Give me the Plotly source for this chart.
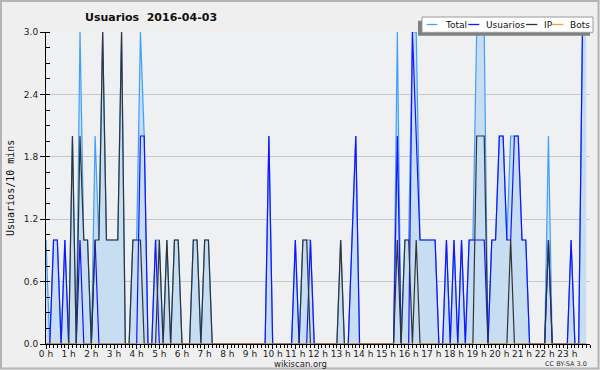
import plotly.graph_objects as go

# ---- data (10-minute slots, 2016-04-03) ----
slot_minutes = [10 * i for i in range(144)]
hour_ticks = [60 * h for h in range(24)]
hour_labels = [f"{h} h" for h in range(24)]
y_ticks = [0.0, 0.6, 1.2, 1.8, 2.4, 3.0]
y_labels = ["0.0", "0.6", "1.2", "1.8", "2.4", "3.0"]

total = [
    1, 0, 1, 1, 0, 1, 0, 2, 0, 3, 1, 1, 0, 2, 1, 3, 1, 1, 1, 1, 3, 0, 0, 1,
    1, 3, 2, 0, 0, 1, 1, 0, 1, 0, 1, 1, 0, 0, 0, 1, 1, 0, 1, 1, 0, 0, 0, 0,
    0, 0, 0, 0, 0, 0, 0, 0, 0, 0, 0, 2, 0, 0, 0, 0, 0, 0, 1, 0, 1, 1, 1, 0,
    0, 0, 0, 0, 0, 0, 1, 0, 0, 1, 2, 0, 0, 0, 0, 0, 0, 0, 0, 0, 0, 3, 0, 1,
    1, 3, 3, 1, 1, 1, 1, 1, 0, 0, 1, 0, 1, 0, 1, 0, 1, 1, 3, 3, 3, 0, 1, 1,
    2, 2, 1, 2, 2, 2, 1, 1, 0, 0, 0, 0, 0, 2, 0, 0, 0, 0, 0, 1, 0, 0, 3, 3,
]
usuarios = [
    0, 0, 1, 1, 0, 1, 0, 0, 0, 1, 0, 0, 0, 1, 0, 0, 0, 0, 0, 0, 0, 0, 0, 0,
    0, 2, 2, 0, 0, 1, 0, 0, 0, 0, 0, 0, 0, 0, 0, 0, 0, 0, 0, 0, 0, 0, 0, 0,
    0, 0, 0, 0, 0, 0, 0, 0, 0, 0, 0, 2, 0, 0, 0, 0, 0, 0, 1, 0, 0, 0, 1, 0,
    0, 0, 0, 0, 0, 0, 0, 0, 0, 1, 2, 0, 0, 0, 0, 0, 0, 0, 0, 0, 0, 2, 0, 0,
    0, 3, 2, 1, 1, 1, 1, 1, 0, 0, 1, 0, 1, 0, 1, 0, 1, 1, 1, 1, 1, 0, 1, 1,
    2, 2, 1, 1, 2, 2, 1, 1, 0, 0, 0, 0, 0, 1, 0, 0, 0, 0, 0, 1, 0, 0, 3, 3,
]
ip = [
    0, 0, 0, 0, 0, 0, 0, 2, 0, 2, 1, 1, 0, 1, 1, 3, 1, 1, 1, 1, 3, 0, 0, 1,
    1, 1, 0, 0, 0, 0, 1, 0, 1, 0, 1, 1, 0, 0, 0, 1, 1, 0, 1, 1, 0, 0, 0, 0,
    0, 0, 0, 0, 0, 0, 0, 0, 0, 0, 0, 0, 0, 0, 0, 0, 0, 0, 0, 0, 1, 1, 0, 0,
    0, 0, 0, 0, 0, 0, 1, 0, 0, 0, 0, 0, 0, 0, 0, 0, 0, 0, 0, 0, 0, 1, 0, 1,
    1, 0, 1, 0, 0, 0, 0, 0, 0, 0, 0, 0, 0, 0, 0, 0, 0, 0, 2, 2, 2, 0, 0, 0,
    0, 0, 0, 1, 0, 0, 0, 0, 0, 0, 0, 0, 0, 1, 0, 0, 0, 0, 0, 0, 0, 0, 0, 0,
]
bots = [
    0, 0, 0, 0, 0, 0, 0, 0, 0, 0, 0, 0, 0, 0, 0, 0, 0, 0, 0, 0, 0, 0, 0, 0,
    0, 0, 0, 0, 0, 0, 0, 0, 0, 0, 0, 0, 0, 0, 0, 0, 0, 0, 0, 0, 0, 0, 0, 0,
    0, 0, 0, 0, 0, 0, 0, 0, 0, 0, 0, 0, 0, 0, 0, 0, 0, 0, 0, 0, 0, 0, 0, 0,
    0, 0, 0, 0, 0, 0, 0, 0, 0, 0, 0, 0, 0, 0, 0, 0, 0, 0, 0, 0, 0, 0, 0, 0,
    0, 0, 0, 0, 0, 0, 0, 0, 0, 0, 0, 0, 0, 0, 0, 0, 0, 0, 0, 0, 0, 0, 0, 0,
    0, 0, 0, 0, 0, 0, 0, 0, 0, 0, 0, 0, 0, 0, 0, 0, 0, 0, 0, 0, 0, 0, 0, 0,
]

series_names = ["Total", "Usuarios", "IP", "Bots"]
series_colors = ["#3f9fff", "#1414ff", "#333333", "#ffa31a"]

# ---- geometry helpers (pixel -> paper) ----
W, H = 600, 370
L, R, T, B = 46, 10, 32, 26
PW, PH = W - L - R, H - T - B


def px(X):
    return (X - L) / PW


def py(Y):
    return (H - B - Y) / PH


fig = go.Figure()
fig.add_trace(go.Scatter(x=slot_minutes, y=total, mode="lines", name="Total",
                         line=dict(color=series_colors[0], width=1.2),
                         fill="tozeroy", fillcolor="#c6ddf2"))
fig.add_trace(go.Scatter(x=slot_minutes, y=usuarios, mode="lines", name="Usuarios",
                         line=dict(color=series_colors[1], width=1.2)))
fig.add_trace(go.Scatter(x=slot_minutes, y=ip, mode="lines", name="IP",
                         line=dict(color=series_colors[2], width=1.2)))
fig.add_trace(go.Scatter(x=slot_minutes, y=bots, mode="lines", name="Bots",
                         line=dict(color=series_colors[3], width=1.2)))

tickfont = dict(family="DejaVu Sans", size=9, color="#222222")

fig.update_layout(
    width=W, height=H,
    margin=dict(l=L, r=R, t=T, b=B, pad=0, autoexpand=False),
    paper_bgcolor="#efefef",
    plot_bgcolor="#eff0f2",
    showlegend=False,
    title=dict(text="Usuarios\u00a0\u00a02016-04-03", x=85 / W, xanchor="left",
               y=1 - 17 / H, yanchor="middle",
               font=dict(family="DejaVu Sans", size=11, color="#111111", weight="bold")),
    xaxis=dict(range=[0, 1440], tickmode="array", tickvals=hour_ticks, ticktext=hour_labels,
               ticks="outside", ticklen=4, tickwidth=1, tickcolor="#000000",
               ticklabelstandoff=-3,
               minor=dict(tickmode="linear", tick0=0, dtick=10, ticks="outside",
                          ticklen=3, tickcolor="#000000", showgrid=False),
               showline=True, linecolor="#000000", linewidth=1, automargin=False,
               showgrid=False, zeroline=False, tickfont=tickfont, fixedrange=True),
    yaxis=dict(range=[0, 3], tickmode="array", tickvals=y_ticks, ticktext=y_labels,
               ticks="outside", ticklen=5, tickwidth=1, tickcolor="#000000",
               minor=dict(tickmode="linear", tick0=0, dtick=0.15, ticks="inside",
                          ticklen=4, tickcolor="#000000", showgrid=False),
               showline=True, linecolor="#000000", linewidth=1, automargin=False,
               showgrid=True, gridcolor="#c8c8c8", gridwidth=1,
               zeroline=False, tickfont=tickfont, fixedrange=True),
)

shapes = []
annotations = []

# figure border
shapes.append(dict(type="rect", xref="paper", yref="paper",
                   x0=px(1), x1=px(598.5), y0=py(368.5), y1=py(1),
                   line=dict(color="#b4b4b4", width=2), fillcolor="rgba(0,0,0,0)", layer="above"))

# legend (shadow + box + samples + texts)
shapes.append(dict(type="rect", xref="paper", yref="paper",
                   x0=px(418), x1=px(590), y0=py(35.7), y1=py(20.7),
                   line=dict(width=0), fillcolor="#808080", layer="above"))
shapes.append(dict(type="rect", xref="paper", yref="paper",
                   x0=px(422), x1=px(593), y0=py(32.3), y1=py(17),
                   line=dict(color="#9a9a9a", width=1), fillcolor="#ffffff", layer="above"))
sample_x = [(426.7, 437.3), (468.3, 479.3), (526, 537.3), (552.3, 563.3)]
text_x = [442.7, 484, 541.7, 567.7]
for (a, b), tx, name, col in zip(sample_x, text_x, series_names, series_colors):
    shapes.append(dict(type="line", xref="paper", yref="paper",
                       x0=px(a), x1=px(b), y0=py(24.5), y1=py(24.5),
                       line=dict(color=col, width=1.3), layer="above"))
    annotations.append(dict(text=name, xref="paper", yref="paper", x=px(tx), y=py(24.5),
                            xanchor="left", yanchor="middle", showarrow=False,
                            font=dict(family="DejaVu Sans", size=9, color="#111111")))

# axis title
annotations.append(dict(text="Usuarios/10 mins", xref="paper", yref="paper",
                        x=px(10), y=0.5, xanchor="center", yanchor="middle",
                        textangle=-90, showarrow=False,
                        font=dict(family="DejaVu Sans Mono", size=10, color="#111111")))
# footer texts
annotations.append(dict(text="wikiscan.org", xref="paper", yref="paper",
                        x=px(300), y=py(363.5), xanchor="center", yanchor="middle",
                        showarrow=False,
                        font=dict(family="DejaVu Sans", size=8.5, color="#222222")))
annotations.append(dict(text="CC BY-SA 3.0", xref="paper", yref="paper",
                        x=px(589), y=py(364), xanchor="right", yanchor="middle",
                        showarrow=False,
                        font=dict(family="DejaVu Sans", size=6.5, color="#333333")))

fig.update_layout(shapes=shapes, annotations=annotations)

fig.write_html("out.html", config=dict(displayModeBar=False),
               post_script="document.body.style.margin='0';document.body.style.overflow='hidden';")
